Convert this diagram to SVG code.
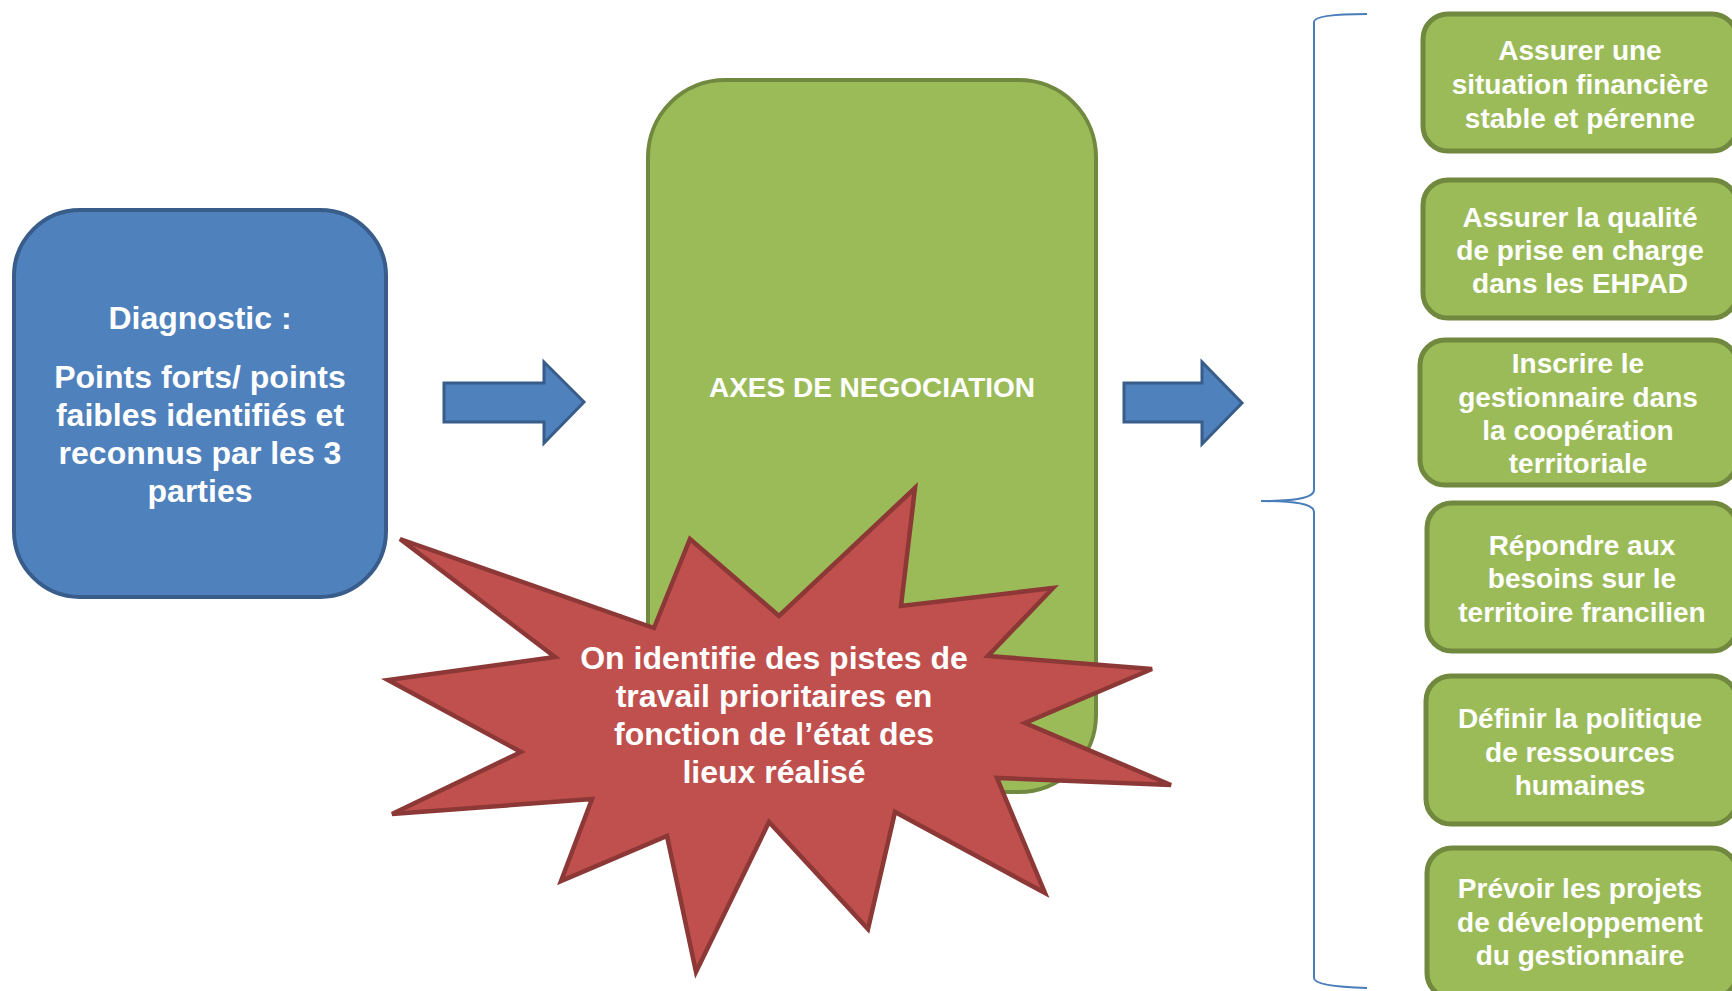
<svg xmlns="http://www.w3.org/2000/svg" width="1732" height="991" viewBox="0 0 1732 991">
<style>
.t{font-family:"Liberation Sans",Arial,sans-serif;font-weight:bold;fill:#FFFFFF;text-anchor:middle}
.b32{font-size:32px}
.b28{font-size:28px}
.side{fill:#9BBB59;stroke:#71893F;stroke-width:5}
.arrow{fill:#4F81BD;stroke:#385D8A;stroke-width:3;stroke-linejoin:miter}
</style>
<rect width="1732" height="991" fill="#FFFFFF"/>
<g id="diagnostic">
<rect x="14" y="210" width="372" height="387" rx="66" ry="66" fill="#4F81BD" stroke="#385D8A" stroke-width="4"/>
<text class="t b32" x="200" y="329">Diagnostic :</text>
<text class="t b32" x="200" y="388">Points forts/ points</text>
<text class="t b32" x="200" y="426">faibles identifiés et</text>
<text class="t b32" x="200" y="464">reconnus par les 3</text>
<text class="t b32" x="200" y="502">parties</text>
</g>
<g id="axes">
<rect x="648" y="80" width="448" height="712" rx="77" ry="77" fill="#9BBB59" stroke="#71893F" stroke-width="4"/>
<text class="t b28" x="872" y="397">AXES DE NEGOCIATION</text>
</g>
<g id="connectors">
<path class="arrow" d="M444,383 L544,383 L544,362 L584,402 L544,443 L544,422 L444,422 Z"/>
<path class="arrow" d="M1124,383 L1202,383 L1202,362 L1242,403 L1202,444 L1202,422 L1124,422 Z"/>
<path d="M1367,14 C1335,14 1314,16 1314,22 L1314,490 C1314,498 1295,501 1261,501 C1295,501 1314,504 1314,512 L1314,978 C1314,984 1335,987 1367,988" fill="none" stroke="#4A7EBB" stroke-width="2"/>
</g>
<g id="star">
<polygon points="400,539 654,628 690,539 779,616 915,488 901,606 1053,588 988,656 1152,669 1025,723 1171,785 997,778 1045,893 895,812 868,929 769,822 696,972 667,836 561,881 592,799 392,814 521,752 388,680 555,657" fill="#C0504D" stroke="#8C3836" stroke-width="4.5" stroke-linejoin="miter"/>
<text class="t b32" x="774" y="669">On identifie des pistes de</text>
<text class="t b32" x="774" y="707">travail prioritaires en</text>
<text class="t b32" x="774" y="745">fonction de l’état des</text>
<text class="t b32" x="774" y="783">lieux réalisé</text>
</g>
<g id="box1">
<rect class="side" x="1423" y="14" width="314" height="137" rx="25"/>
<text class="t b28" x="1580" y="60">Assurer une</text>
<text class="t b28" x="1580" y="94">situation financière</text>
<text class="t b28" x="1580" y="128">stable et pérenne</text>
</g>
<g id="box2">
<rect class="side" x="1423" y="180" width="314" height="138" rx="25"/>
<text class="t b28" x="1580" y="227">Assurer la qualité</text>
<text class="t b28" x="1580" y="260">de prise en charge</text>
<text class="t b28" x="1580" y="293">dans les EHPAD</text>
</g>
<g id="box3">
<rect class="side" x="1420" y="340" width="317" height="145" rx="25"/>
<text class="t b28" x="1578" y="373">Inscrire le</text>
<text class="t b28" x="1578" y="407">gestionnaire dans</text>
<text class="t b28" x="1578" y="440">la coopération</text>
<text class="t b28" x="1578" y="473">territoriale</text>
</g>
<g id="box4">
<rect class="side" x="1427" y="503" width="310" height="148" rx="25"/>
<text class="t b28" x="1582" y="555">Répondre aux</text>
<text class="t b28" x="1582" y="588">besoins sur le</text>
<text class="t b28" x="1582" y="622">territoire francilien</text>
</g>
<g id="box5">
<rect class="side" x="1426" y="676" width="311" height="148" rx="25"/>
<text class="t b28" x="1580" y="728">Définir la politique</text>
<text class="t b28" x="1580" y="762">de ressources</text>
<text class="t b28" x="1580" y="795">humaines</text>
</g>
<g id="box6">
<rect class="side" x="1427" y="848" width="310" height="150" rx="25"/>
<text class="t b28" x="1580" y="898">Prévoir les projets</text>
<text class="t b28" x="1580" y="932">de développement</text>
<text class="t b28" x="1580" y="965">du gestionnaire</text>
</g>
</svg>
